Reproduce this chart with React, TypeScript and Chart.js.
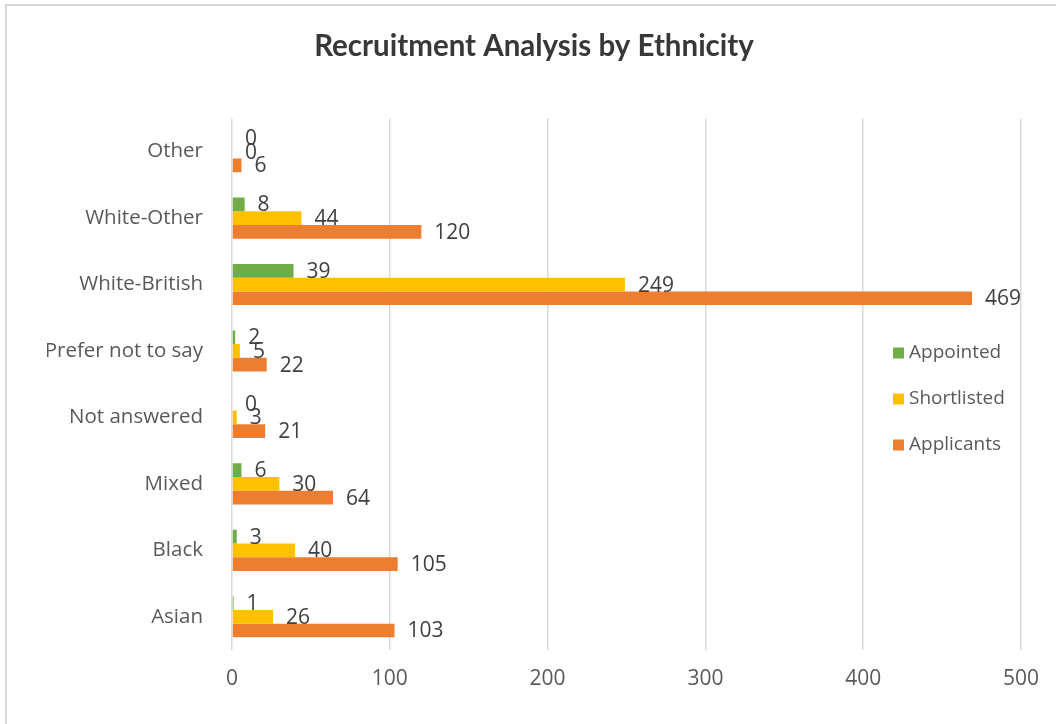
import React, { useEffect, useRef } from "react";
import { Chart, registerables } from "chart.js";

Chart.register(...registerables);

const categories = [
  "Other",
  "White-Other",
  "White-British",
  "Prefer not to say",
  "Not answered",
  "Mixed",
  "Black",
  "Asian",
];
const appointed = [0, 8, 39, 2, 0, 6, 3, 1];
const shortlisted = [0, 44, 249, 5, 3, 30, 40, 26];
const applicants = [6, 120, 469, 22, 21, 64, 105, 103];
const xTicks = [0, 100, 200, 300, 400, 500];
const seriesNames = ["Appointed", "Shortlisted", "Applicants"];
const seriesColors = ["#70AD47", "#FFC000", "#ED7D31"];

const FONT = "'Open Sans', sans-serif";
const TITLE_FONT = "Lato, 'Open Sans', sans-serif";

const framePlugin = {
  id: "frame",
  beforeDraw(chart: any) {
    const ctx = chart.ctx;
    ctx.save();
    ctx.fillStyle = "#ffffff";
    ctx.fillRect(0, 0, chart.width, chart.height);
    ctx.fillStyle = "#D9D9D9";
    ctx.fillRect(5, 4, 2, chart.height - 4);
    ctx.fillRect(5, 4, chart.width - 5, 2);
    ctx.restore();
  },
};

const labelsPlugin = {
  id: "valueLabels",
  afterDatasetsDraw(chart: any) {
    const ctx = chart.ctx;
    ctx.save();
    ctx.font = `21px ${FONT}`;
    ctx.fillStyle = "#404040";
    ctx.textAlign = "left";
    ctx.textBaseline = "middle";
    chart.data.datasets.forEach((ds: any, i: number) => {
      const meta = chart.getDatasetMeta(i);
      meta.data.forEach((el: any, j: number) => {
        ctx.fillText(String(ds.data[j]), el.x + 13, el.y + 1);
      });
    });
    ctx.restore();
  },
};

const legendPlugin = {
  id: "customLegend",
  afterDraw(chart: any) {
    const ctx = chart.ctx;
    ctx.save();
    ctx.font = `19px ${FONT}`;
    ctx.textBaseline = "middle";
    ctx.textAlign = "left";
    const ys = [353, 399, 445];
    seriesNames.forEach((name, i) => {
      ctx.fillStyle = seriesColors[i];
      ctx.fillRect(893, ys[i] - 5.5, 11, 11);
      ctx.fillStyle = "#595959";
      ctx.fillText(name, 909, ys[i]);
    });
    ctx.restore();
  },
};

export default function App() {
  const ref = useRef<HTMLCanvasElement | null>(null);
  useEffect(() => {
    if (!ref.current) return;
    const chart = new Chart(ref.current, {
      type: "bar",
      data: {
        labels: categories,
        datasets: [
          { label: seriesNames[0], data: appointed, backgroundColor: seriesColors[0] },
          { label: seriesNames[1], data: shortlisted, backgroundColor: seriesColors[1] },
          { label: seriesNames[2], data: applicants, backgroundColor: seriesColors[2] },
        ],
      },
      options: {
        indexAxis: "y",
        responsive: false,
        animation: false,
        datasets: {
          bar: { categoryPercentage: 0.62, barPercentage: 1 },
        },
        layout: { padding: { left: 47, right: 35, top: 0, bottom: 0 } },
        plugins: {
          legend: { display: false },
          tooltip: { enabled: false },
          title: {
            display: true,
            text: "Recruitment Analysis by Ethnicity",
            color: "#383838",
            font: { family: TITLE_FONT, size: 29.5, weight: "bold", lineHeight: 1.2 },
            padding: { top: 29, bottom: 54 },
          },
        },
        scales: {
          x: {
            min: 0,
            max: 500,
            afterBuildTicks(scale: any) {
              scale.ticks = xTicks.map((v) => ({ value: v }));
            },
            afterFit(scale: any) {
              scale.height = 74;
            },
            grid: { color: "#D9D9D9", lineWidth: 1.5, drawTicks: false },
            border: { display: false },
            ticks: {
              color: "#595959",
              font: { family: FONT, size: 21 },
              padding: 16,
            },
          },
          y: {
            afterFit(scale: any) {
              scale.width = 185;
            },
            grid: { display: false, drawTicks: false },
            border: { display: false },
            ticks: {
              color: "#595959",
              font: { family: FONT, size: 20.5 },
              padding: 29,
            },
          },
        },
      },
      plugins: [framePlugin, labelsPlugin, legendPlugin],
    } as any);
    return () => chart.destroy();
  }, []);
  return (
    <div style={{ position: "fixed", left: 0, top: 0, width: 1056, height: 724, background: "#fff" }}>
      <canvas ref={ref} width={1056} height={724} style={{ display: "block" }} />
    </div>
  );
}
